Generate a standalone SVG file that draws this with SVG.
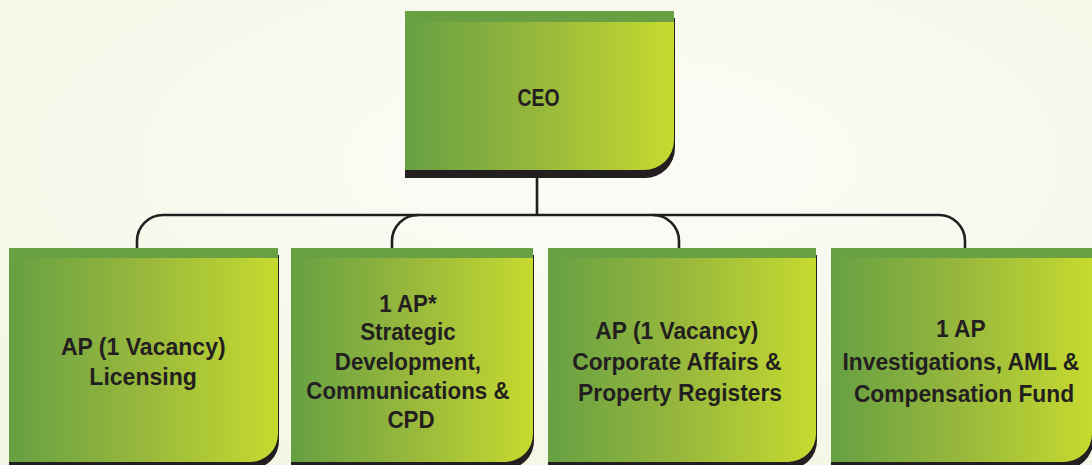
<svg xmlns="http://www.w3.org/2000/svg" width="1092" height="465" viewBox="0 0 1092 465">
  <defs>
    <radialGradient id="bg" cx="0.55" cy="0.35" r="0.75">
      <stop offset="0" stop-color="#fcfcf8"/>
      <stop offset="1" stop-color="#f3f6e4"/>
    </radialGradient>
    <linearGradient id="boxFill" x1="0" y1="0" x2="1" y2="0">
      <stop offset="0" stop-color="#66a043"/>
      <stop offset="0.5" stop-color="#98b83c"/>
      <stop offset="1" stop-color="#c6da2f"/>
    </linearGradient>
    <style>
      .shadow { fill: #231f20; }
      .body { fill: url(#boxFill); }
      .band { fill: #69a043; }
      .label { font-family: "Liberation Sans", Arial, sans-serif; font-weight: bold; font-size: 24px; fill: #231f20; text-anchor: middle; }
      .link { fill: none; stroke: #231f20; stroke-width: 2.6; }
    </style>
  </defs>

  <rect width="1092" height="465" fill="url(#bg)"/>

  <!-- connectors -->
  <g id="connectors">
    <path class="link" d="M537,177 V215"/>
    <path class="link" d="M137,249 V241 A26 26 0 0 1 163,215 H939 A26 26 0 0 1 965,241 V249"/>
    <path class="link" d="M392,249 V241 A26 26 0 0 1 418,215"/>
    <path class="link" d="M653,215 A26 26 0 0 1 679,241 V249"/>
  </g>

  <!-- CEO -->
  <g id="ceo">
    <path class="shadow" d="M405,18 H675 V148 A30 30 0 0 1 645,178 H405 Z"/>
    <path class="body" d="M405,11 H674 V140 A30 30 0 0 1 644,170 H405 Z"/>
    <rect class="band" x="405" y="11" width="269" height="11"/>
    <text class="label" x="538.5" y="106" font-size="28" textLength="42" lengthAdjust="spacingAndGlyphs">CEO</text>
  </g>

  <!-- Licensing -->
  <g id="ap-licensing">
    <path class="shadow" d="M9,255 H279 V441 A28 28 0 0 1 251,469 H9 Z"/>
    <path class="body" d="M9,248 H278 V434 A28 28 0 0 1 250,462 H9 Z"/>
    <rect class="band" x="9" y="248" width="269" height="10"/>
    <text class="label" transform="translate(145,0) scale(0.96,1)">
      <tspan x="1.5" y="355">AP (1 Vacancy)</tspan>
      <tspan x="-2" y="385">Licensing</tspan>
    </text>
  </g>

  <!-- Strategic Development -->
  <g id="ap-strategic">
    <path class="shadow" d="M291,255 H534 V441 A28 28 0 0 1 506,469 H291 Z"/>
    <path class="body" d="M291,248 H533 V434 A28 28 0 0 1 505,462 H291 Z"/>
    <rect class="band" x="291" y="248" width="242" height="10"/>
    <text class="label" transform="translate(411,0) scale(0.93,1)">
      <tspan x="0" y="312">1 AP*</tspan>
      <tspan x="0" y="340">Strategic</tspan>
      <tspan x="0" y="370">Development,</tspan>
      <tspan x="0" y="399">Communications &amp;</tspan>
      <tspan x="0" y="428">CPD</tspan>
    </text>
  </g>

  <!-- Corporate Affairs -->
  <g id="ap-corporate">
    <path class="shadow" d="M548,255 H817 V441 A28 28 0 0 1 789,469 H548 Z"/>
    <path class="body" d="M548,248 H816 V434 A28 28 0 0 1 788,462 H548 Z"/>
    <rect class="band" x="548" y="248" width="268" height="10"/>
    <text class="label" transform="translate(680,0) scale(0.95,1)">
      <tspan x="0" y="339">AP (1 Vacancy)</tspan>
      <tspan x="0" y="370">Corporate Affairs &amp;</tspan>
      <tspan x="0" y="401">Property Registers</tspan>
    </text>
  </g>

  <!-- Investigations -->
  <g id="ap-investigations">
    <path class="shadow" d="M831,255 H1093 V441 A28 28 0 0 1 1065,469 H831 Z"/>
    <path class="body" d="M831,248 H1092 V434 A28 28 0 0 1 1064,462 H831 Z"/>
    <rect class="band" x="831" y="248" width="261" height="10"/>
    <text class="label" transform="translate(964,0) scale(0.95,1)">
      <tspan x="0" y="337">1 AP</tspan>
      <tspan x="0" y="370">Investigations, AML &amp;</tspan>
      <tspan x="0" y="402">Compensation Fund</tspan>
    </text>
  </g>
</svg>
